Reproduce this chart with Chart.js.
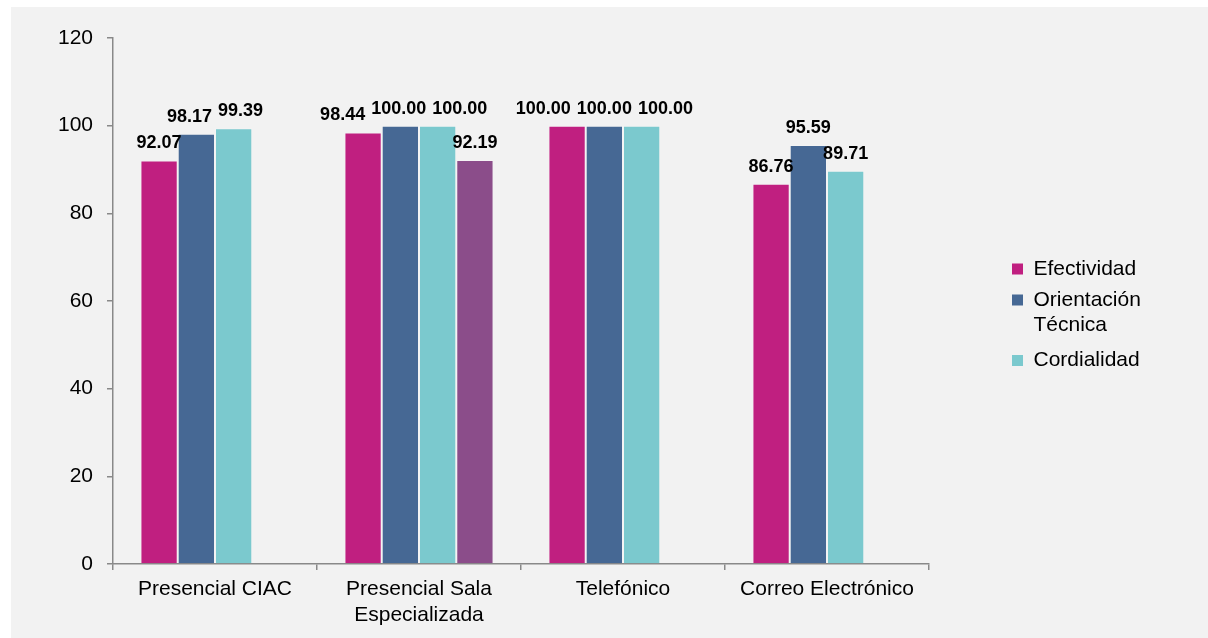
<!DOCTYPE html>
<html lang="es">
<head>
<meta charset="utf-8">
<title>Satisfacción por canal de atención</title>
<script src="https://cdn.jsdelivr.net/npm/chart.js@4.4.1/dist/chart.umd.min.js"></script>
<style>
  html, body { margin: 0; padding: 0; background: #fff; }
  #panel { position: absolute; left: 11px; top: 7px; width: 1197px; height: 631px; background: #f2f2f2; }
</style>
</head>
<body>
<div id="panel"><canvas id="myChart" width="1197" height="631"></canvas></div>
<script>
// datos
const canales = ["Presencial CIAC", ["Presencial Sala", "Especializada"], "Telefónico", "Correo Electrónico"];
const efectividad = [92.07, 98.44, 100.00, 86.76];
const orientacion = [98.17, 100.00, 100.00, 95.59];
const cordialidad = [99.39, 100.00, 100.00, 89.71];
const extra = [null, 92.19, null, null]; // barra morada sin leyenda
const yTicks = [0, 20, 40, 60, 80, 100, 120];

Chart.defaults.font.family = "'Liberation Sans', Arial, sans-serif";
Chart.defaults.color = "#000";

// la leyenda va mas a la derecha que el borde del area del grafico
const legendSpot = {
  id: "legendSpot",
  beforeLayout(chart) {
    const lg = chart.legend;
    if (lg && !lg._wrapped) {
      const fit = lg.fit;
      lg.fit = function () { fit.call(this); this.width = 279; };
      lg._wrapped = true;
    }
  },
  afterLayout(chart) {
    const lg = chart.legend;
    const w = lg.right - lg.left, h = lg.bottom - lg.top;
    lg.left = 991; lg.right = lg.left + w;
    lg.top = 241.5; lg.bottom = lg.top + h;
  }
};

// etiquetas de valor encima de cada barra
const valueLabels = {
  id: "valueLabels",
  afterDatasetsDraw(chart) {
    const ctx = chart.ctx;
    ctx.save();
    ctx.font = "bold 18px 'Liberation Sans', Arial, sans-serif";
    ctx.fillStyle = "#000";
    ctx.textAlign = "center";
    ctx.textBaseline = "bottom";
    const groups = [];
    chart.data.datasets.forEach((ds, di) => {
      const meta = chart.getDatasetMeta(di);
      meta.data.forEach((bar, i) => {
        const v = ds.data[i];
        if (v === null || v === undefined) return;
        const text = v.toFixed(2);
        (groups[i] = groups[i] || []).push({ text, x: bar.x, y: bar.y - 8, w: ctx.measureText(text).width });
      });
    });
    groups.forEach(g => {
      // separar las que se pisan
      for (let k = 0; k < 40; k++) {
        for (let j = 0; j < g.length - 1; j++) {
          const a = g[j], b = g[j + 1];
          if (Math.abs(a.y - b.y) > 14) continue;
          const overlap = (a.w + b.w) / 2 + 6 - (b.x - a.x);
          if (overlap > 0) { a.x -= overlap / 2; b.x += overlap / 2; }
        }
      }
      g.forEach(l => ctx.fillText(l.text, l.x, l.y));
    });
    ctx.restore();
  }
};

const ctx = document.getElementById("myChart");
const chart = new Chart(ctx, {
  type: "bar",
  data: {
    labels: canales,
    datasets: [
      { label: "Efectividad", data: efectividad, backgroundColor: "#C01F80" },
      { label: "Orientación Técnica", data: orientacion, backgroundColor: "#466894" },
      { label: "Cordialidad", data: cordialidad, backgroundColor: "#7BC9CE" },
      { label: "", data: extra, backgroundColor: "#8B4D8A" }
    ]
  },
  options: {
    responsive: false,
    animation: false,
    layout: { padding: { left: 42, top: 31, right: 0, bottom: 0 } },
    datasets: {
      bar: {
        categoryPercentage: 0.731,
        barPercentage: 1,
        borderWidth: 1,
        borderColor: "rgba(255,255,255,0.15)"
      }
    },
    scales: {
      x: {
        grid: { drawOnChartArea: false, tickLength: 6, color: "#898989", lineWidth: 1.5, offset: true },
        border: { color: "#898989", width: 1.5 },
        ticks: { font: { size: 21 }, padding: 7, maxRotation: 0, autoSkip: false },
        afterFit(scale) { scale.height = 74; }
      },
      y: {
        min: yTicks[0],
        max: yTicks[yTicks.length - 1],
        ticks: { stepSize: yTicks[1] - yTicks[0], font: { size: 21 }, padding: 14 },
        grid: { drawOnChartArea: false, tickLength: 6, color: "#898989", lineWidth: 1.5 },
        border: { color: "#898989", width: 1.5 },
        afterFit(scale) { scale.width = 60; }
      }
    },
    plugins: {
      tooltip: { enabled: false },
      legend: {
        position: "right",
        align: "start",
        labels: {
          boxWidth: 11,
          boxHeight: 11,
          padding: 10,
          font: { size: 21 },
          generateLabels(chart) {
            const items = Chart.defaults.plugins.legend.labels.generateLabels(chart);
            return items.filter(it => it.text !== "").map(it => {
              if (it.text.includes(" ")) it.text = it.text.split(" ");
              it.lineWidth = 0;
              return it;
            });
          }
        }
      }
    }
  },
  plugins: [legendSpot, valueLabels]
});
</script>
</body>
</html>
